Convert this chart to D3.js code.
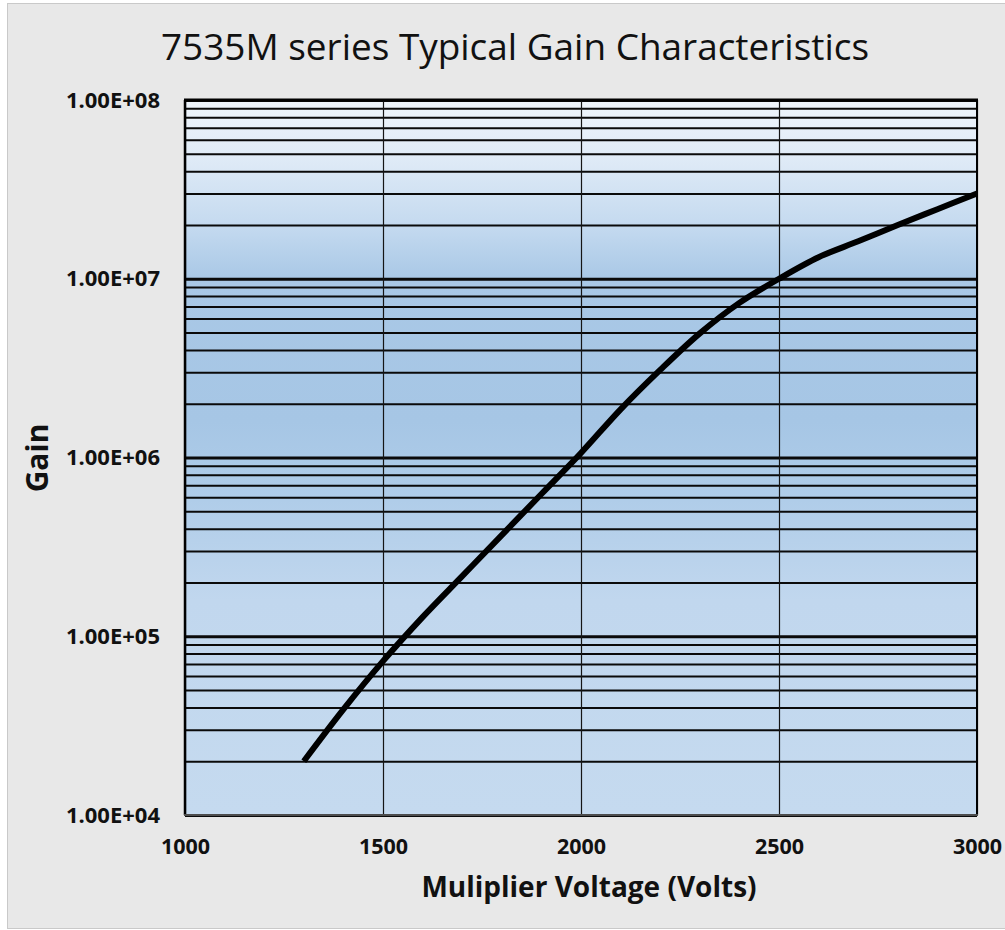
<!DOCTYPE html>
<html>
<head>
<meta charset="utf-8">
<script src="https://cdn.jsdelivr.net/npm/d3@7"></script>
<style>
    html, body { margin: 0; padding: 0; background: #ffffff; }
    svg { display: block; }
</style>
</head>
<body>
<script>
// values
const voltage = [1300, 1400, 1500, 1600, 1700, 1800, 1900, 2000, 2100, 2200,
    2300, 2400, 2500, 2600, 2700, 2800, 2900, 3000];
const gain = [2.0e4, 3.9e4, 7.26e4, 1.28e5, 2.17e5, 3.68e5, 6.25e5, 1.06e6, 1.86e6, 3.09e6,
    4.95e6, 7.33e6, 1.0e7, 1.32e7, 1.62e7, 2.0e7, 2.45e7, 3.0e7];
const xTicks = [1000, 1500, 2000, 2500, 3000];
const yDecades = [1e4, 1e5, 1e6, 1e7, 1e8];
const chartTitle = "7535M series Typical Gain Characteristics";
const xTitle = "Muliplier Voltage (Volts)";
const yTitle = "Gain";

window.onload = initPage;

function initPage() {
    const svgInfo = {
        SVG_WIDTH: 1005,
        SVG_HEIGHT: 930,
        LEFT: 185,
        RIGHT: 977,
        TOP: 100,
        BOTTOM: 815,
    };
    const svg = d3.select("body")
        .append("svg")
        .attr("width", svgInfo.SVG_WIDTH)
        .attr("height", svgInfo.SVG_HEIGHT);

    drawFrame(svg, svgInfo);
    drawChart(svg, svgInfo);
}

function drawFrame(svg, svgInfo) {
    svg.append("rect")
        .attr("x", 7.5).attr("y", 3.5)
        .attr("width", svgInfo.SVG_WIDTH)
        .attr("height", 925)
        .attr("fill", "#e8e8e8")
        .attr("stroke", "#c9c9c9")
        .attr("stroke-width", 1);

    svg.append("text")
        .attr("x", 515)
        .attr("y", 60)
        .attr("text-anchor", "middle")
        .attr("textLength", 708)
        .attr("lengthAdjust", "spacingAndGlyphs")
        .style("font-family", "'Open Sans', sans-serif")
        .style("font-size", "37px")
        .style("fill", "#111")
        .text(chartTitle);
}

function sciLabel(v) {
    const exp = Math.round(Math.log10(v));
    const mant = v / Math.pow(10, exp);
    return mant.toFixed(2) + "E+" + String(exp).padStart(2, "0");
}

function drawChart(svg, svgInfo) {
    const width = svgInfo.RIGHT - svgInfo.LEFT;
    const height = svgInfo.BOTTOM - svgInfo.TOP;

    const x = d3.scaleLinear()
        .domain([xTicks[0], xTicks[xTicks.length - 1]])
        .range([svgInfo.LEFT, svgInfo.RIGHT]);
    const y = d3.scaleLog()
        .domain([yDecades[0], yDecades[yDecades.length - 1]])
        .range([svgInfo.BOTTOM, svgInfo.TOP]);

    // background gradient of the plot area
    const grad = svg.append("defs").append("linearGradient")
        .attr("id", "plotFill")
        .attr("x1", 0).attr("y1", 0).attr("x2", 0).attr("y2", 1);
    [[0, "#eff5fb"], [0.08, "#e0ebf7"], [0.18, "#c3d9ef"], [0.25, "#a9c8e6"],
     [0.45, "#a6c6e5"], [0.56, "#b0cde9"], [0.7, "#c1d7ee"], [1, "#c5daef"]]
        .forEach(([o, c]) => grad.append("stop").attr("offset", o).attr("stop-color", c));

    svg.append("rect")
        .attr("x", svgInfo.LEFT).attr("y", svgInfo.TOP)
        .attr("width", width).attr("height", height)
        .attr("fill", "url(#plotFill)");

    // all horizontal gridlines (1..9 within each decade)
    const minorValues = [];
    yDecades.slice(0, -1).forEach((d) => {
        for (let k = 1; k < 10; k++) minorValues.push(d * k);
    });
    minorValues.push(yDecades[yDecades.length - 1]);

    const yGrid = svg.append("g")
        .attr("transform", `translate(${svgInfo.LEFT},0)`)
        .call(d3.axisLeft(y).tickValues(minorValues).tickSize(-width).tickFormat(""));
    yGrid.select(".domain").remove();
    yGrid.selectAll(".tick line")
        .attr("stroke", "#0a0a0a")
        .attr("stroke-width", (d) => (yDecades.includes(d) ? 3 : 2));

    // vertical gridlines + x labels
    const xAxis = svg.append("g")
        .attr("transform", `translate(0,${svgInfo.BOTTOM})`)
        .call(d3.axisBottom(x).tickValues(xTicks).tickSize(-height).tickPadding(24).tickFormat(d3.format("d")));
    xAxis.select(".domain").remove();
    xAxis.selectAll(".tick line").attr("stroke", "#151515").attr("stroke-width", 1.2);
    xAxis.selectAll(".tick text")
        .style("font-family", "'Open Sans', sans-serif")
        .style("font-size", "21.5px")
        .style("font-weight", "bold")
        .style("fill", "#111");

    // y labels
    const yAxis = svg.append("g")
        .attr("transform", `translate(${svgInfo.LEFT},0)`)
        .call(d3.axisLeft(y).tickValues(yDecades).tickSize(0).tickPadding(25).tickFormat(sciLabel));
    yAxis.select(".domain").remove();
    yAxis.selectAll(".tick text")
        .style("font-family", "'Open Sans', sans-serif")
        .style("font-size", "22px")
        .style("font-weight", "bold")
        .style("fill", "#111");

    // plot border
    const border = svg.append("g");
    border.append("line")
        .attr("x1", svgInfo.LEFT - 1).attr("x2", svgInfo.RIGHT + 1)
        .attr("y1", svgInfo.TOP).attr("y2", svgInfo.TOP)
        .attr("stroke", "#000").attr("stroke-width", 3);
    border.append("line")
        .attr("x1", svgInfo.LEFT).attr("x2", svgInfo.LEFT)
        .attr("y1", svgInfo.TOP).attr("y2", svgInfo.BOTTOM)
        .attr("stroke", "#000").attr("stroke-width", 2.5);
    border.append("line")
        .attr("x1", svgInfo.RIGHT).attr("x2", svgInfo.RIGHT)
        .attr("y1", svgInfo.TOP).attr("y2", svgInfo.BOTTOM)
        .attr("stroke", "#000").attr("stroke-width", 2);
    border.append("line")
        .attr("x1", svgInfo.LEFT - 1).attr("x2", svgInfo.RIGHT + 1)
        .attr("y1", svgInfo.BOTTOM).attr("y2", svgInfo.BOTTOM)
        .attr("stroke", "#4d4d4d").attr("stroke-width", 2);

    // the gain curve
    const data = voltage.map((v, i) => [v, gain[i]]);
    const line = d3.line()
        .x((d) => x(d[0]))
        .y((d) => y(d[1]))
        .curve(d3.curveCatmullRom.alpha(0.5));
    svg.append("path")
        .datum(data)
        .attr("d", line)
        .attr("fill", "none")
        .attr("stroke", "#000")
        .attr("stroke-width", 6)
        .attr("stroke-linejoin", "round");

    // axis titles
    svg.append("text")
        .attr("x", (svgInfo.LEFT + svgInfo.RIGHT) / 2 + 8)
        .attr("y", 897)
        .attr("text-anchor", "middle")
        .style("font-family", "'Open Sans', sans-serif")
        .style("font-size", "28px")
        .style("font-weight", "bold")
        .style("fill", "#111")
        .text(xTitle);

    svg.append("text")
        .attr("transform", "translate(48,458) rotate(-90)")
        .attr("text-anchor", "middle")
        .style("font-family", "'Open Sans', sans-serif")
        .style("font-size", "30px")
        .style("font-weight", "bold")
        .style("fill", "#111")
        .text(yTitle);
}
</script>
</body>
</html>
